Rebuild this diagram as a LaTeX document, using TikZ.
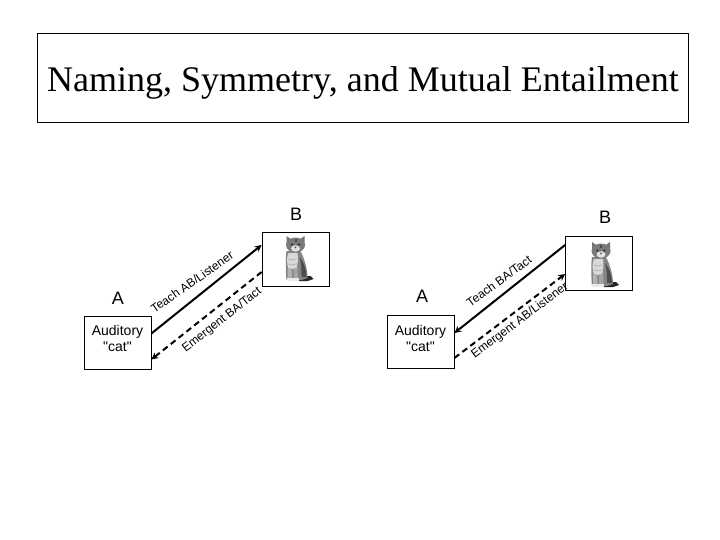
\documentclass[tikz,border=0pt]{standalone}
\usepackage{fontspec}
\setmainfont{Liberation Serif}
\newfontfamily\labelfont{Liberation Sans}
\tikzset{
	kitten/.pic={
		% tail and shadow
		\fill[black!85] (3,17) -- (15,17) -- (18,20) -- (12,22) -- (3,22) -- cycle;
		% body
		\fill[black!48] (-9,-8) -- (5,-8) .. controls (9,0) and (12,10) .. (12,19) -- (6,21) -- (-9,21) .. controls (-10,10) and (-10,0) .. (-9,-8) -- cycle;
		\fill[black!70] (4,-2) .. controls (8,3) and (11,10) .. (11,18) -- (6,18) .. controls (6,10) and (6,4) .. (4,-2);
		% chest
		\fill[black!15] (-7,-6) -- (2,-6) .. controls (3,0) and (2,6) .. (1,10) -- (-7,10) .. controls (-9,4) and (-9,-2) .. (-7,-6);
		\foreach \y in {0,5}
			\draw[black!30, line width=0.8pt] (-7,\y) -- (-3,\y+1) -- (1,\y);
		% legs
		\fill[black!30] (-8,9) -- (-4,9) -- (-3.5,19) -- (-8,19) -- cycle;
		\fill[black!35] (-2,9) -- (2,9) -- (2.5,19) -- (-2,19) -- cycle;
		\fill[black!8] (-9,19) rectangle (-3,22);
		\fill[black!8] (-3,19) rectangle (3,22);
		% ears
		\fill[black!55] (-9,-23) -- (-2,-18) -- (-9,-12) -- cycle;
		\fill[black!55] (9,-23) -- (2,-18) -- (9,-12) -- cycle;
		% head
		\fill[black!52] (0,-14) ellipse (9.5 and 7.5);
		\fill[black!70] (-1,-20) rectangle (1,-17);
		\fill[black!12] (0,-10.5) ellipse (4.5 and 3.2);
		\fill[black!85] (-3.5,-14.5) circle (1.2);
		\fill[black!85] (3.5,-14.5) circle (1.2);
		\fill[black!75] (0,-11.5) circle (0.8);
	},
	catbox/.style={draw, line width=0.8pt, minimum width=67pt, minimum height=54pt, inner sep=0pt},
	audbox/.style={draw, line width=0.8pt, minimum width=67pt, minimum height=53pt, inner sep=0pt, align=center, text depth=8pt, font=\labelfont\fontsize{14}{16}\selectfont},
	letter/.style={font=\labelfont\fontsize{18}{20}\selectfont},
	rellabel/.style={font=\labelfont\fontsize{12}{14}\selectfont, inner sep=0pt},
	taught/.style={->, >=stealth, line width=2pt},
	emergent/.style={->, >=stealth, line width=2pt, dash pattern=on 6pt off 4pt}
}
\begin{document}
\begin{tikzpicture}[x=1pt, y=-1pt]
	\useasboundingbox (0,0) rectangle (720,540);
	
	% Title
	\node[draw, line width=0.8pt, minimum width=651pt, minimum height=89pt, inner sep=0pt, text height=27pt, text depth=0pt, font=\fontsize{36}{40}\selectfont] (title) at (363,78) {Naming, Symmetry, and Mutual Entailment};
	
	% Left diagram
	\node[audbox] (audL) at (117.5,342.5) {Auditory\\"cat"};
	\node[catbox] (catL) at (295.5,259) {};
	\pic at (catL.center) {kitten};
	\node[letter] (aL) at (118,298) {A};
	\node[letter] (bL) at (296,214) {B};
	\draw[taught] ([yshift=9pt]audL.east) -- ([yshift=14pt]catL.west);
	\draw[emergent] ([yshift=-13pt]catL.west) -- ([yshift=-17pt]audL.east);
	\node[rellabel, rotate=35] (teachL) at (192,282) {Teach AB/Listener};
	\node[rellabel, rotate=38] (emergL) at (222,320) {Emergent BA/Tact};
	
	% Right diagram
	\node[audbox] (audR) at (420.5,342) {Auditory\\"cat"};
	\node[catbox] (catR) at (599,263) {};
	\pic at ([shift={(2,2)}]catR.center) {kitten};
	\node[letter] (aR) at (422,296) {A};
	\node[letter] (bR) at (605,217) {B};
	\draw[taught] ([yshift=18pt]catR.west) -- ([yshift=9pt]audR.east);
	\draw[emergent] ([yshift=-16pt]audR.east) -- ([yshift=-11pt]catR.west);
	\node[rellabel, rotate=36] (teachR) at (499,281) {Teach BA/Tact};
	\node[rellabel, rotate=37] (emergR) at (520,321) {Emergent AB/Listener};
	
\end{tikzpicture}
\end{document}
